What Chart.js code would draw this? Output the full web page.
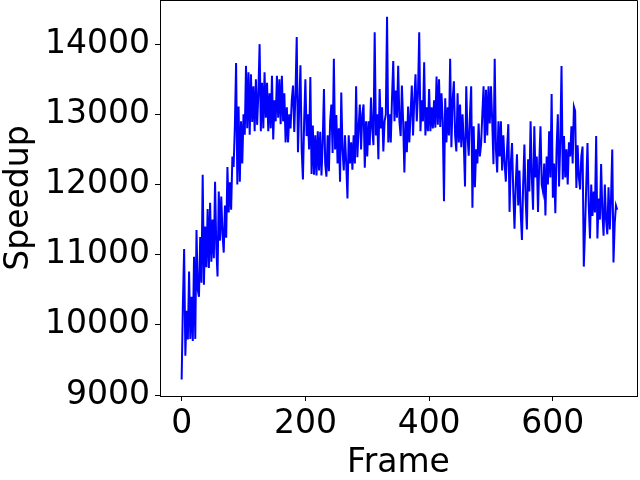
<!DOCTYPE html>
<html>
<head>
<meta charset="utf-8">
<script src="https://cdn.jsdelivr.net/npm/chart.js@4.4.0/dist/chart.umd.min.js"></script>
<style>
  html, body { margin: 0; padding: 0; background: #ffffff; }
  #speedup_chart { display: block; }
</style>
</head>
<body>
<canvas id="speedup_chart" width="640" height="480"></canvas>
<script>
//Frame numbers (every 2nd frame)
const frames = [
    0, 2, 4, 6, 8, 10, 12, 14, 16, 18,
    20, 22, 24, 26, 28, 30, 32, 34, 36, 38,
    40, 42, 44, 46, 48, 50, 52, 54, 56, 58,
    60, 62, 64, 66, 68, 70, 72, 74, 76, 78,
    80, 82, 84, 86, 88, 90, 92, 94, 96, 98,
    100, 102, 104, 106, 108, 110, 112, 114, 116, 118,
    120, 122, 124, 126, 128, 130, 132, 134, 136, 138,
    140, 142, 144, 146, 148, 150, 152, 154, 156, 158,
    160, 162, 164, 166, 168, 170, 172, 174, 176, 178,
    180, 182, 184, 186, 188, 190, 192, 194, 196, 198,
    200, 202, 204, 206, 208, 210, 212, 214, 216, 218,
    220, 222, 224, 226, 228, 230, 232, 234, 236, 238,
    240, 242, 244, 246, 248, 250, 252, 254, 256, 258,
    260, 262, 264, 266, 268, 270, 272, 274, 276, 278,
    280, 282, 284, 286, 288, 290, 292, 294, 296, 298,
    300, 302, 304, 306, 308, 310, 312, 314, 316, 318,
    320, 322, 324, 326, 328, 330, 332, 334, 336, 338,
    340, 342, 344, 346, 348, 350, 352, 354, 356, 358,
    360, 362, 364, 366, 368, 370, 372, 374, 376, 378,
    380, 382, 384, 386, 388, 390, 392, 394, 396, 398,
    400, 402, 404, 406, 408, 410, 412, 414, 416, 418,
    420, 422, 424, 426, 428, 430, 432, 434, 436, 438,
    440, 442, 444, 446, 448, 450, 452, 454, 456, 458,
    460, 462, 464, 466, 468, 470, 472, 474, 476, 478,
    480, 482, 484, 486, 488, 490, 492, 494, 496, 498,
    500, 502, 504, 506, 508, 510, 512, 514, 516, 518,
    520, 522, 524, 526, 528, 530, 532, 534, 536, 538,
    540, 542, 544, 546, 548, 550, 552, 554, 556, 558,
    560, 562, 564, 566, 568, 570, 572, 574, 576, 578,
    580, 582, 584, 586, 588, 590, 592, 594, 596, 598,
    600, 602, 604, 606, 608, 610, 612, 614, 616, 618,
    620, 622, 624, 626, 628, 630, 632, 634, 636, 638,
    640, 642, 644, 646, 648, 650, 652, 654, 656, 658,
    660, 662, 664, 666, 668, 670, 672, 674, 676, 678,
    680, 682, 684, 686, 688, 690, 692, 694, 696, 698,
    700, 702, 704
];

//Speedup values
const speedup = [
    9220, 10300, 11080, 9560, 10200, 9790, 10760, 9800, 10400, 9770,
    10970, 9800, 11350, 10500, 10400, 11250, 10600, 12140, 10570, 11400,
    10820, 11650, 10810, 11740, 10900, 11500, 10950, 12040, 11100, 10690,
    11900, 11200, 11830, 11300, 11030, 11700, 11240, 12250, 11600, 12030,
    11640, 12400, 12250, 12830, 13730, 12000, 13110, 12040, 12900, 12300,
    13000, 12710, 13690, 12800, 13600, 12710, 13570, 12890, 13400, 12760,
    13500, 12850, 13300, 14000, 12760, 13450, 12800, 13600, 12950, 13450,
    12760, 13300, 12800, 13550, 12640, 13200, 12900, 13550, 12950, 13500,
    12860, 13550, 12900, 13300, 12600, 13100, 12600, 13000, 12800, 13200,
    13410, 12750, 13300, 14100, 12460, 13100, 13700, 12500, 12070, 12900,
    13500, 12690, 13000, 12500, 13530, 12150, 12840, 12140, 12700, 12130,
    12760, 12200, 12750, 12130, 12600, 13360, 12300, 12110, 12700, 12190,
    12900, 13140, 12450, 13790, 12500, 12990, 12300, 12800, 12040, 13310,
    12500, 12200, 12700, 12300, 11800, 12700, 12300, 12600, 12210, 12700,
    12300, 13400, 12390, 12800, 13140, 12500, 13000, 13140, 12240, 12900,
    12400, 12900, 12560, 13240, 12800, 12560, 14170, 12700, 13000, 12360,
    13360, 12800, 13100, 12470, 12900, 13000, 14390, 12600, 13000, 12600,
    13230, 13760, 12900, 13340, 12950, 13690, 12900, 12690, 13410, 12900,
    12170, 12900, 12460, 13110, 12600, 13000, 13410, 12700, 13200, 13570,
    12900, 13300, 14170, 12760, 13200, 12900, 13740, 12700, 13100, 12760,
    13360, 12760, 13100, 12800, 13200, 12810, 13540, 12850, 13500, 12820,
    13300, 12900, 11760, 13230, 12600, 13100, 12700, 13790, 12530, 13200,
    13470, 12700, 12470, 13300, 12600, 13140, 12530, 13000, 12600, 11970,
    13400, 12700, 12410, 13000, 13400, 11670, 12830, 11960, 12500, 12300,
    12870, 12400, 12570, 13000, 13400, 12590, 13350, 12700, 13400, 12870,
    13400, 12900, 12290, 13790, 12500, 12170, 12900, 12400, 12900, 12200,
    12700, 12300, 12040, 12500, 12860, 11610, 12300, 12590, 11900, 11370,
    12000, 12430, 11700, 12200, 11600, 11210, 12000, 12570, 11800, 11360,
    12360, 11900, 12900, 12100, 11640, 12830, 12100, 12400, 11610, 12300,
    12830, 12000, 11900, 12300, 11560, 12400, 12000, 12760, 12100, 13290,
    11810, 12300, 11590, 12500, 13000, 11970, 12600, 13690, 12070, 12690,
    12100, 12500, 12000, 12600, 12400, 12830, 12300, 13110, 13050, 11950,
    12560, 12100, 11930, 12400, 12540, 10830, 11360, 12000, 12590, 11700,
    11230, 12000, 11550, 11900, 11600, 12690, 11230, 11800, 11500, 12290,
    11600, 11270, 12000, 11500, 11290, 11960, 11360, 11800, 12500, 10890,
    11450, 11700, 11640
];

//Tick labels
const x_ticks = [0, 200, 400, 600];
const y_ticks = [9000, 10000, 11000, 12000, 13000, 14000];

const axis_font = { family: 'DejaVu Sans', size: 33 };

//Draws the top and right spines, the scales only give left and bottom
const frame_box = {
    id: 'frame_box',
    afterDraw(chart) {
        const { ctx, chartArea } = chart;
        ctx.save();
        ctx.strokeStyle = '#000000';
        ctx.lineWidth = 1;
        ctx.beginPath();
        ctx.moveTo(Math.round(chartArea.left) + 0.5, Math.round(chartArea.top) + 0.5);
        ctx.lineTo(Math.round(chartArea.right) + 0.5, Math.round(chartArea.top) + 0.5);
        ctx.lineTo(Math.round(chartArea.right) + 0.5, Math.round(chartArea.bottom) + 0.5);
        ctx.stroke();
        ctx.restore();
    }
};

const white_bg = {
    id: 'white_bg',
    beforeDraw(chart) {
        const ctx = chart.ctx;
        ctx.save();
        ctx.fillStyle = '#ffffff';
        ctx.fillRect(0, 0, chart.width, chart.height);
        ctx.restore();
    }
};

let chart_canvas = document.getElementById('speedup_chart');

let speed_chart = new Chart(chart_canvas, {
    type: 'line',
    data: {
        datasets: [{
            label: 'Speedup',
            data: frames.map((f, i) => ({ x: f, y: speedup[i] })),
            borderColor: '#0000ff',
            borderWidth: 2,
            pointRadius: 0,
            tension: 0,
            fill: false
        }]
    },
    options: {
        responsive: false,
        animation: false,
        devicePixelRatio: 1,
        layout: { padding: { left: 0, right: 3, top: 0, bottom: -3 } },
        plugins: {
            legend: { display: false },
            tooltip: { enabled: false }
        },
        scales: {
            x: {
                type: 'linear',
                min: -35,
                max: 736,
                afterBuildTicks: s => { s.ticks = x_ticks.map(v => ({ value: v })); },
                afterFit: s => {
                    s.height = 87;
                    s.paddingLeft = 0;
                    s.paddingRight = 0;
                },
                ticks: {
                    font: axis_font,
                    color: '#000000',
                    maxRotation: 0,
                    padding: 4,
                    callback: v => String(v)
                },
                grid: {
                    drawOnChartArea: false,
                    drawTicks: true,
                    tickLength: 5,
                    color: '#000000',
                    lineWidth: 1
                },
                border: { display: true, color: '#000000', width: 1 },
                title: {
                    display: true,
                    text: 'Frame',
                    font: axis_font,
                    color: '#000000',
                    padding: 0
                }
            },
            y: {
                type: 'linear',
                min: 8986,
                max: 14629,
                afterBuildTicks: s => { s.ticks = y_ticks.map(v => ({ value: v })); },
                afterFit: s => {
                    s.width = 160;
                    s.paddingTop = 0;
                    s.paddingBottom = 0;
                },
                ticks: {
                    font: axis_font,
                    color: '#000000',
                    padding: 5,
                    callback: v => String(v)
                },
                grid: {
                    drawOnChartArea: false,
                    drawTicks: true,
                    tickLength: 5,
                    color: '#000000',
                    lineWidth: 1
                },
                border: { display: true, color: '#000000', width: 1 },
                title: {
                    display: true,
                    text: 'Speedup',
                    font: axis_font,
                    color: '#000000',
                    padding: 0
                }
            }
        }
    },
    plugins: [white_bg, frame_box]
});
</script>
</body>
</html>
